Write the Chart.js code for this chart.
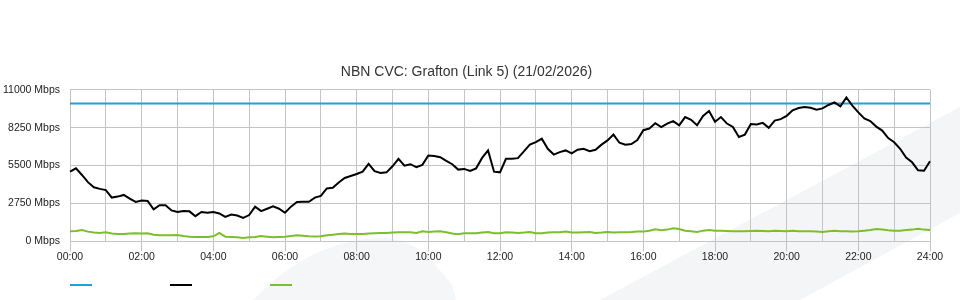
<!DOCTYPE html>
<html>
<head>
<meta charset="utf-8">
<title>NBN CVC: Grafton (Link 5)</title>
<script src="https://cdn.jsdelivr.net/npm/chart.js@4.4.1/dist/chart.umd.min.js"></script>
<style>
  html, body { margin: 0; padding: 0; background: #fff; }
  #wrap {
    position: relative;
    width: 960px;
    height: 300px;
    /* faint logo watermark behind the chart */
    background: url("data:image/svg+xml;utf8,<svg xmlns='http://www.w3.org/2000/svg' width='960' height='300'><path d='M600 300 L960 107 L960 213 L800 300 Z' fill='%23f4f5f7'/><path d='M253 300 C290 262 330 240 380 238 C410 238 425 250 452 285 L456 300 Z' fill='%23f5f6f8'/></svg>") no-repeat;
  }
</style>
</head>
<body>
<div id="wrap"><canvas id="cvcChart" width="960" height="300"></canvas></div>
<script>
// -------------------------------
// Data (10 minute samples, Mbps)
// -------------------------------
const chartTitle = 'NBN CVC: Grafton (Link 5) (21/02/2026)';
const cvcCapacity = 10000;
const yTicks = [0, 2750, 5500, 8250, 11000];

// time labels 00:00 .. 24:00 every 10 min
const timeLabels = [];
for (let m = 0; m <= 1440; m += 10) {
    const hh = String(Math.floor(m / 60)).padStart(2, '0');
    const mm = String(m % 60).padStart(2, '0');
    timeLabels.push(hh + ':' + mm);
}

const trafficIn = [
    5060, 5300, 4820, 4300, 3930, 3810, 3720, 3180, 3250, 3370, 3100, 2860,
    2960, 2930, 2320, 2620, 2620, 2250, 2130, 2200, 2180, 1830, 2130, 2080,
    2130, 2030, 1780, 1950, 1880, 1710, 1910, 2520, 2200, 2370, 2540, 2370,
    2080, 2520, 2860, 2880, 2880, 3180, 3300, 3840, 3890, 4280, 4600, 4740,
    4890, 5060, 5620, 5090, 4960, 5010, 5450, 5990, 5500, 5600, 5380, 5550,
    6230, 6200, 6110, 5840, 5600, 5210, 5260, 5110, 5300, 6060, 6600, 5060,
    5010, 5990, 5990, 6040, 6530, 7020, 7200, 7450, 6720, 6300, 6480, 6600,
    6380, 6650, 6720, 6550, 6650, 7020, 7330, 7750, 7160, 7020, 7070, 7360,
    8070, 8190, 8580, 8290, 8550, 8730, 8420, 9020, 8820, 8430, 9110, 9460,
    8680, 9020, 8550, 8310, 7580, 7750, 8510, 8480, 8600, 8240, 8770, 8870,
    9110, 9510, 9680, 9750, 9700, 9560, 9650, 9900, 10090, 9800, 10440, 9850,
    9360, 8920, 8730, 8330, 8040, 7500, 7190, 6720, 6090, 5740, 5160, 5130,
    5820
];

const trafficOut = [
    733, 760, 830, 710, 640, 611, 660, 570, 540, 540, 570, 590,
    570, 590, 489, 440, 440, 440, 465, 390, 330, 318, 318, 318,
    367, 611, 340, 318, 293, 244, 293, 318, 390, 340, 293, 318,
    340, 390, 440, 415, 367, 350, 367, 440, 489, 540, 570, 540,
    540, 540, 570, 590, 611, 611, 640, 660, 660, 660, 611, 733,
    680, 720, 733, 660, 570, 515, 590, 590, 590, 640, 680, 590,
    590, 660, 640, 611, 640, 680, 590, 590, 640, 660, 660, 710,
    640, 640, 660, 680, 611, 640, 680, 640, 660, 660, 680, 710,
    710, 780, 880, 810, 855, 950, 900, 780, 733, 680, 780, 830,
    780, 780, 760, 733, 733, 733, 760, 780, 760, 733, 780, 760,
    733, 780, 733, 733, 733, 710, 680, 733, 780, 733, 733, 710,
    733, 780, 830, 900, 855, 810, 780, 780, 830, 855, 925, 855,
    830
];

const capacityLine = timeLabels.map(() => cvcCapacity);

// -------------------------------
// Legend: just the line samples, no text
// -------------------------------
const lineLegend = {
    id: 'lineLegend',
    afterDraw(chart) {
        const ctx = chart.ctx;
        const left = chart.chartArea.left;
        ctx.save();
        chart.data.datasets.forEach((ds, i) => {
            ctx.strokeStyle = ds.borderColor;
            ctx.lineWidth = 2;
            ctx.beginPath();
            ctx.moveTo(left + i * 100, 285);
            ctx.lineTo(left + i * 100 + 22, 285);
            ctx.stroke();
        });
        ctx.restore();
    }
};

const gridColor = '#c4c4c4';
const font = { family: "'Liberation Sans', Arial, sans-serif", size: 10.5 };

new Chart(document.getElementById('cvcChart'), {
    type: 'line',
    data: {
        labels: timeLabels,
        datasets: [
            { label: 'Capacity', data: capacityLine, borderColor: '#1ba1dd', borderWidth: 2, pointRadius: 0, order: 1 },
            { label: 'In', data: trafficIn, borderColor: '#000000', borderWidth: 2, pointRadius: 0, order: 0 },
            { label: 'Out', data: trafficOut, borderColor: '#7bbf2b', borderWidth: 2, pointRadius: 0, order: 2 }
        ]
    },
    options: {
        responsive: false,
        animation: false,
        layout: { padding: { left: 3, right: 30, top: 0, bottom: 38 } },
        plugins: {
            legend: { display: false },
            tooltip: { enabled: false },
            title: {
                display: true,
                text: chartTitle,
                color: '#333',
                font: { family: "'Liberation Sans', Arial, sans-serif", size: 14, weight: 'normal' },
                padding: { top: 64, bottom: 9 }
            }
        },
        scales: {
            x: {
                offset: false,
                grid: {
                    color: ctx => (ctx.index % 6 === 0 ? gridColor : 'transparent'),
                    tickColor: ctx => (ctx.index % 12 === 0 ? gridColor : 'transparent'),
                    tickLength: 10
                },
                border: { color: gridColor },
                ticks: {
                    autoSkip: false,
                    maxRotation: 0,
                    padding: -1,
                    color: '#222',
                    font: font,
                    callback: (v, i) => (i % 12 === 0 ? timeLabels[i] : '')
                }
            },
            y: {
                min: 0,
                max: 11000,
                afterBuildTicks: scale => { scale.ticks = yTicks.map(v => ({ value: v })); },
                afterFit: scale => { scale.width = 67; },
                grid: { color: gridColor, drawTicks: false },
                border: { color: gridColor },
                ticks: {
                    padding: 10,
                    color: '#222',
                    font: font,
                    callback: v => v + ' Mbps'
                }
            }
        }
    },
    plugins: [lineLegend]
});
</script>
</body>
</html>
